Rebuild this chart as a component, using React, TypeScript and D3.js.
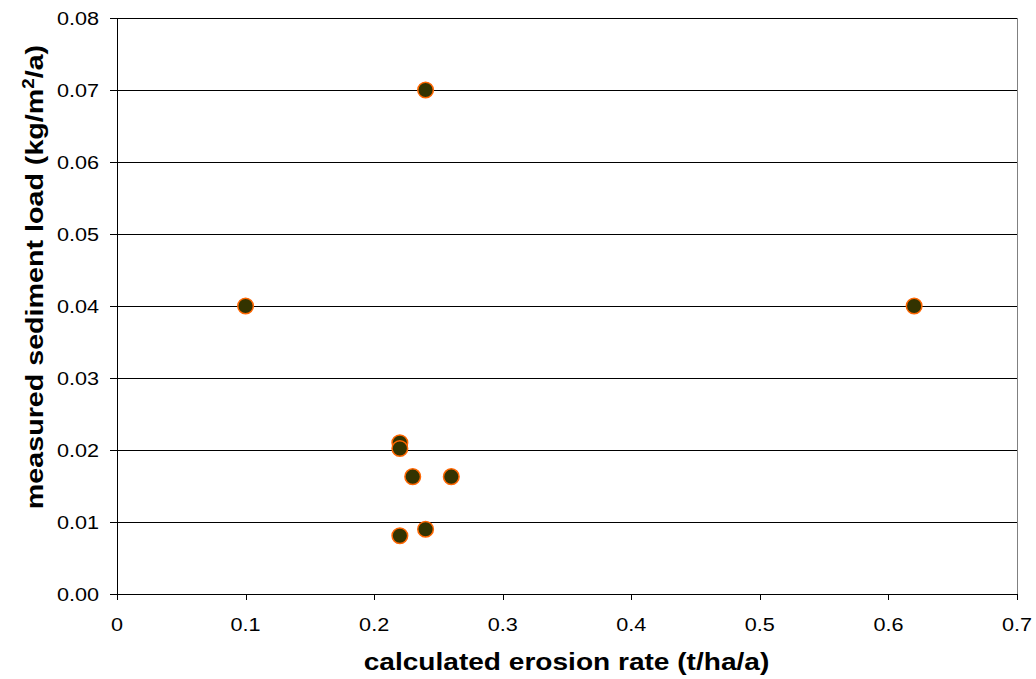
import React from 'react';
import * as d3 from 'd3';

const erosionRate = [0.1, 0.24, 0.62, 0.22, 0.22, 0.23, 0.26, 0.22, 0.24];
const sedimentLoad = [0.04, 0.07, 0.04, 0.021, 0.0202, 0.0163, 0.0163, 0.0081, 0.009];
const xTicks = [0, 0.1, 0.2, 0.3, 0.4, 0.5, 0.6, 0.7];
const yTicks = [0, 0.01, 0.02, 0.03, 0.04, 0.05, 0.06, 0.07, 0.08];

const W = 1036;
const H = 679;
const left = 117;
const right = 1017;
const top = 18;
const bottom = 594;
const font = 'Arial, "Liberation Sans", sans-serif';
const stretch = 1.17; // text in the reference is a bit wider than tall

export default function App() {
  const x = d3.scaleLinear().domain([0, 0.7]).range([left, right]);
  const y = d3.scaleLinear().domain([0, 0.08]).range([bottom, top]);
  const fmtX = (v: number) => (v === 0 ? '0' : d3.format('.1f')(v));
  const fmtY = d3.format('.2f');

  return (
    <svg width={W} height={H} style={{ position: 'absolute', left: 0, top: 0, background: '#fff' }}>
      {/* gridlines */}
      {yTicks.filter((t) => t > 0).map((t) => (
        <line key={'g' + t} x1={left} x2={right} y1={Math.round(y(t)) + 0.5} y2={Math.round(y(t)) + 0.5} stroke="#000" strokeWidth={1} />
      ))}
      {/* right border */}
      <line x1={right + 0.5} x2={right + 0.5} y1={top} y2={bottom} stroke="#808080" strokeWidth={1} />
      {/* axes */}
      <line x1={left + 0.5} x2={left + 0.5} y1={top} y2={bottom} stroke="#000" strokeWidth={1} />
      <line x1={left} x2={right + 1} y1={bottom + 0.5} y2={bottom + 0.5} stroke="#000" strokeWidth={1} />

      {yTicks.map((t) => (
        <g key={'y' + t}>
          <line x1={left - 7} x2={left} y1={Math.round(y(t)) + 0.5} y2={Math.round(y(t)) + 0.5} stroke="#000" />
          <text
            transform={`translate(${left - 18},${y(t) + 6.5}) scale(${stretch},1)`}
            textAnchor="end"
            fontFamily={font}
            fontSize={18.5}
            fill="#000"
          >
            {fmtY(t)}
          </text>
        </g>
      ))}

      {xTicks.map((t) => (
        <g key={'x' + t}>
          <line x1={Math.round(x(t)) + 0.5} x2={Math.round(x(t)) + 0.5} y1={bottom} y2={bottom + 6} stroke="#000" />
          <text
            transform={`translate(${x(t)},${bottom + 37}) scale(${stretch},1)`}
            textAnchor="middle"
            fontFamily={font}
            fontSize={18.5}
            fill="#000"
          >
            {fmtX(t)}
          </text>
        </g>
      ))}

      {erosionRate.map((v, i) => (
        <circle key={'p' + i} cx={x(v)} cy={y(sedimentLoad[i])} r={7.8} fill="#333300" stroke="#FF6600" strokeWidth={1.5} />
      ))}

      <text
        transform={`translate(${(366 + 767) / 2},${bottom + 76}) scale(${stretch},1)`}
        textAnchor="middle"
        fontFamily={font}
        fontSize={24}
        fontWeight="bold"
        fill="#000"
      >
        calculated erosion rate (t/ha/a)
      </text>
      <text
        transform={`translate(43,277) rotate(-90) scale(${stretch},1)`}
        textAnchor="middle"
        fontFamily={font}
        fontSize={24.5}
        fontWeight="bold"
        fill="#000"
      >
        measured sediment load (kg/m<tspan dy={-9} fontSize={16}>2</tspan><tspan dy={9}>/a)</tspan>
      </text>
    </svg>
  );
}
